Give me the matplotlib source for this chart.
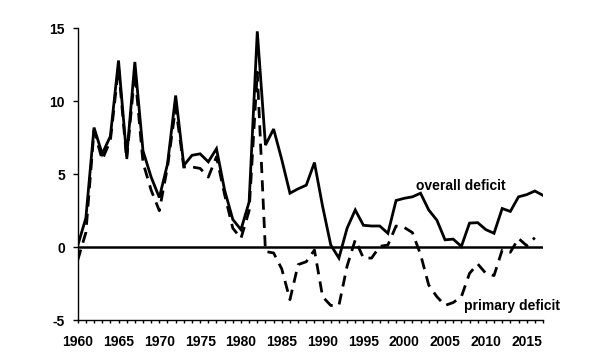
import matplotlib
matplotlib.use("Agg")
import matplotlib.pyplot as plt
import numpy as np

plt.rcParams['font.family'] = ['Liberation Sans', 'DejaVu Sans']

years_overall = list(range(1960, 2018))
overall = [0.1, 2.0, 8.2, 6.4, 7.6, 12.8, 6.2, 12.7, 6.6, 4.8,
           3.4, 5.7, 10.4, 5.6, 6.3, 6.4, 5.85, 6.75, 3.9, 1.9,
           1.2, 3.1, 14.8, 7.0, 8.1, 6.0, 3.7, 4.0, 4.25, 5.8,
           2.8, 0.15, -0.75, 1.3, 2.55, 1.5, 1.45, 1.45, 0.95, 3.2,
           3.35, 3.45, 3.7, 2.55, 1.85, 0.5, 0.55, 0.05, 1.65, 1.68,
           1.2, 0.95, 2.65, 2.45, 3.45, 3.6, 3.85, 3.55]

years_primary = list(range(1960, 2017))
primary = [-0.9, 1.0, 8.0, 6.0, 7.3, 12.3, 6.0, 12.0, 5.8, 3.9,
           2.5, 5.5, 9.6, 5.5, 5.5, 5.4, 4.8, 6.2, 3.6, 1.3,
           0.6, 2.5, 12.0, -0.3, -0.4, -1.5, -3.6, -1.2, -1.0, -0.2,
           -3.4, -4.0, -4.0, -1.3, 0.5, -0.75, -0.75, 0.05, 0.15, 1.45,
           1.35, 1.0, -0.5, -2.6, -3.4, -4.0, -3.8, -3.4, -1.8, -1.15,
           -1.8, -1.95, -0.2, -0.35, 0.6, 0.1, 0.65]

xtick_labels = ['1960', '1965', '1970', '1975', '1980', '1985', '1990',
                '1995', '2000', '2005', '2010', '2015']
ytick_vals = [-5, 0, 5, 10, 15]

fig = plt.figure(figsize=(6, 3.6), dpi=100)
ax = fig.add_axes([0.1295, 0.111, 0.7755, 0.81])

ax.plot(years_overall, overall, color='black', lw=2.0, solid_joinstyle='miter')
ax.plot(years_primary, primary, color='black', lw=2.0, dashes=(4, 2.6))
ax.axhline(0, color='black', lw=1.8)

ax.set_xlim(1960, 2017)
ax.set_ylim(-5, 15)
ax.set_yticks(ytick_vals)
ax.set_yticklabels([str(v) for v in ytick_vals], fontweight='bold', fontsize=10)
ax.set_xticks([int(s) for s in xtick_labels])
ax.set_xticklabels(xtick_labels, fontweight='bold', fontsize=10)
ax.set_xticks(range(1960, 2018), minor=True)

for s in ['top', 'right']:
    ax.spines[s].set_visible(False)
for s in ['left', 'bottom']:
    ax.spines[s].set_linewidth(1.0)
ax.tick_params(axis='y', which='major', length=3.6, width=1, pad=5.5)
ax.tick_params(axis='x', which='both', length=2.5, width=1, pad=8)

ax.text(2006.9, 4.18, 'overall deficit', fontweight='bold', fontsize=10,
        ha='center', va='center')
ax.text(2013.2, -4.07, 'primary deficit', fontweight='bold', fontsize=10,
        ha='center', va='center')

fig.savefig('out.png', dpi=100)
